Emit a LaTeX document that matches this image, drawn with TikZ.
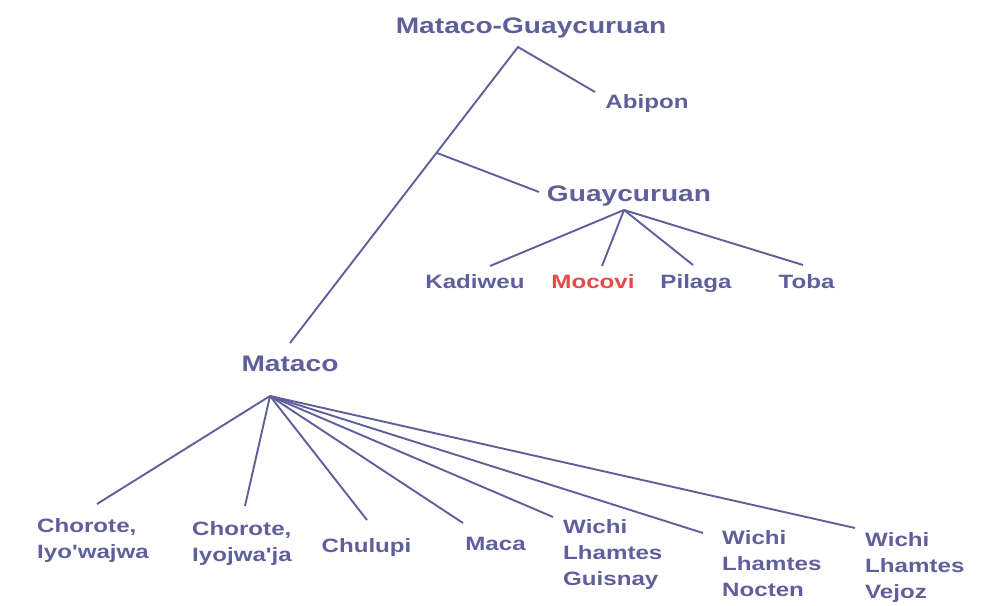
\documentclass[tikz,border=0pt]{standalone}
\usepackage{fontspec}
\newfontfamily\labfont[FakeStretch=1.25]{Liberation Sans}
\definecolor{tree}{RGB}{95,95,155}
\definecolor{hl}{RGB}{232,72,72}
\begin{document}
\begin{tikzpicture}[x=1pt,y=-1pt,
  big/.style={font=\labfont\bfseries\fontsize{22.5}{26}\selectfont, text=tree, inner sep=0pt, anchor=base},
  small/.style={font=\labfont\bfseries\fontsize{19.3}{26}\selectfont, text=tree, inner sep=0pt, anchor=base},
  multi/.style={small, align=left, anchor=base west},
  branch/.style={draw=tree, line width=1.9pt}]
\useasboundingbox (0,0) rectangle (981,605);

% labels (multi-line nodes are placed by the baseline of their last line)
\node[big] (root) at (531,33) {Mataco-Guaycuruan};
\node[small] (abipon) at (647,108) {Abipon};
\node[big] (guay) at (629,201.5) {Guaycuruan};
\node[small] (kad) at (475,288) {Kadiweu};
\node[small,text=hl] (moc) at (593,288) {Mocovi};
\node[small] (pil) at (696,288) {Pilaga};
\node[small] (toba) at (806.5,288) {Toba};
\node[big] (mataco) at (290,371.5) {Mataco};
\node[multi] (cho1) at (37,558) {Chorote,\\Iyo'wajwa};
\node[multi] (cho2) at (192,561) {Chorote,\\Iyojwa'ja};
\node[small] (chul) at (366.5,552) {Chulupi};
\node[small] (maca) at (495.5,550) {Maca};
\node[multi] (wg) at (563,585) {Wichi\\Lhamtes\\Guisnay};
\node[multi] (wn) at (722,596) {Wichi\\Lhamtes\\Nocten};
\node[multi] (wv) at (865,598) {Wichi\\Lhamtes\\Vejoz};

% connector end points
\coordinate (rootA) at (518,47);
\coordinate (abiponE) at (595,92);
\coordinate (matacoE) at (290,343);
\coordinate (split) at (437,153);
\coordinate (guayE) at (539,192);
\coordinate (guayA) at (624,210);
\coordinate (kadE) at (490,266);
\coordinate (mocE) at (602,266);
\coordinate (pilE) at (693,265);
\coordinate (tobaE) at (803,265);
\coordinate (matacoA) at (270,396);
\coordinate (cho1E) at (97,504);
\coordinate (cho2E) at (245,506);
\coordinate (chulE) at (367,520);
\coordinate (macaE) at (463,523);
\coordinate (wgE) at (553,517);
\coordinate (wnE) at (703,533);
\coordinate (wvE) at (855,528);

% connectors
\draw[branch] (abiponE) -- (rootA) -- (matacoE);
\draw[branch] (split) -- (guayE);
\foreach \e in {kadE,mocE,pilE,tobaE} \draw[branch] (guayA) -- (\e);
\foreach \e in {cho1E,cho2E,chulE,macaE,wgE,wnE,wvE} \draw[branch] (matacoA) -- (\e);
\end{tikzpicture}
\end{document}
